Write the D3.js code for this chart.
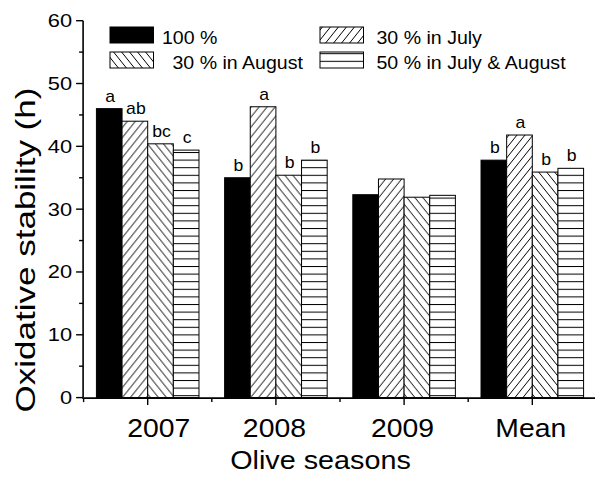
<!DOCTYPE html>
<html><head><meta charset="utf-8">
<script src="https://cdn.jsdelivr.net/npm/d3@7"></script>
<style>html,body{margin:0;padding:0;background:#fff;} svg{display:block;}</style>
</head><body>
<svg id="chart" width="595" height="477"></svg>
<script>
const categories = ["2007", "2008", "2009", "Mean"];
const seriesNames = ["100 %", "30 % in July", "30 % in August", "50 % in July & August"];
const v100 = [46.0, 35.0, 32.3, 37.8];
const vJuly = [44.0, 46.3, 34.8, 41.8];
const vAugust = [40.4, 35.4, 31.9, 35.9];
const vJulyAug = [39.4, 37.8, 32.2, 36.5];
const letters100 = ["a", "b", "", "b"];
const lettersJuly = ["ab", "a", "", "a"];
const lettersAugust = ["bc", "b", "", "b"];
const lettersJulyAug = ["c", "b", "", "b"];
const yTicks = [0, 10, 20, 30, 40, 50, 60];
const yMinorTicks = [5, 15, 25, 35, 45, 55];
const yTitle = "Oxidative stability (h)";
const xTitle = "Olive seasons";

const values = [v100, vJuly, vAugust, vJulyAug];
const letters = [letters100, lettersJuly, lettersAugust, lettersJulyAug];
const fills = ["#000", "url(#hJuly)", "url(#hAug)", "url(#hHoriz)"];
const FONT = "'Liberation Sans', Arial, Helvetica, sans-serif";

const svg = d3.select("#chart");
const defs = svg.append("defs");

// Patterns
const pJ = defs.append("pattern").attr("id", "hJuly").attr("patternUnits", "userSpaceOnUse")
  .attr("width", 8).attr("height", 10);
pJ.append("rect").attr("width", 8).attr("height", 10).attr("fill", "#fff");
pJ.append("path").attr("d", "M-8,20 L16,-10 M-8,10 L8,-10 M0,20 L16,0")
  .attr("stroke", "#000").attr("stroke-width", 1);

const pA = defs.append("pattern").attr("id", "hAug").attr("patternUnits", "userSpaceOnUse")
  .attr("width", 8).attr("height", 10);
pA.append("rect").attr("width", 8).attr("height", 10).attr("fill", "#fff");
pA.append("path").attr("d", "M-8,-10 L16,20 M-8,0 L8,20 M0,-10 L16,10")
  .attr("stroke", "#000").attr("stroke-width", 1);

const pH = defs.append("pattern").attr("id", "hHoriz").attr("patternUnits", "userSpaceOnUse")
  .attr("width", 8).attr("height", 7.6);
pH.append("rect").attr("width", 8).attr("height", 7.6).attr("fill", "#fff");
pH.append("line").attr("x1", 0).attr("x2", 8).attr("y1", 0.5).attr("y2", 0.5)
  .attr("stroke", "#000").attr("stroke-width", 1);

// Scales
const y = d3.scaleLinear().domain([0, 60]).range([397.6, 20.7]);
const x = d3.scaleBand().domain(categories).range([83.6, 596.4]).paddingInner(0.2).paddingOuter(0.1);
const x1 = d3.scaleBand().domain(d3.range(seriesNames.length)).range([0, x.bandwidth()]);

function stretchedText(sel, px, py, sx, rot) {
  sel.attr("transform", `translate(${px},${py})` + (rot ? ` rotate(${rot})` : "") + ` scale(${sx},1)`);
  return sel;
}

// Bars
const groups = svg.append("g").selectAll("g").data(categories).join("g")
  .attr("transform", d => `translate(${x(d)},0)`);
groups.each(function (cat, ci) {
  const g = d3.select(this);
  seriesNames.forEach((s, si) => {
    const val = values[si][ci];
    g.append("rect")
      .attr("x", x1(si)).attr("width", x1.bandwidth())
      .attr("y", y(val)).attr("height", y(0) - y(val))
      .attr("fill", fills[si]).attr("stroke", "#000").attr("stroke-width", 1);
    const lab = letters[si][ci];
    if (lab) {
      stretchedText(g.append("text"), x1(si) + x1.bandwidth() / 2 + 1, y(val) - 7, 1.1)
        .attr("text-anchor", "middle").attr("font-family", FONT).attr("font-size", 16)
        .attr("fill", "#000").text(lab);
    }
  });
});

// Y axis
const yAxisG = svg.append("g").attr("transform", `translate(${x.range()[0] - 0.5},0)`);
yAxisG.append("line").attr("x1", 0).attr("x2", 0).attr("y1", y(60)).attr("y2", y(0))
  .attr("stroke", "#000").attr("stroke-width", 1.6);
yTicks.forEach(t => {
  yAxisG.append("line").attr("x1", -7).attr("x2", 0).attr("y1", y(t)).attr("y2", y(t))
    .attr("stroke", "#000").attr("stroke-width", 1.4);
  stretchedText(yAxisG.append("text"), -11, y(t) + 6.5, 1.15)
    .attr("text-anchor", "end").attr("font-family", FONT).attr("font-size", 19).text(t);
});
yMinorTicks.forEach(t => {
  yAxisG.append("line").attr("x1", -4).attr("x2", 0).attr("y1", y(t)).attr("y2", y(t))
    .attr("stroke", "#000").attr("stroke-width", 1.4);
});

// X axis
const xAxisG = svg.append("g").attr("transform", `translate(0,${y(0) + 0.5})`);
xAxisG.append("line").attr("x1", x.range()[0] - 1.3).attr("x2", x.range()[1])
  .attr("y1", 0).attr("y2", 0).attr("stroke", "#000").attr("stroke-width", 1.6);
categories.forEach((c, i) => {
  const cx = x(c) + x.bandwidth() / 2;
  xAxisG.append("line").attr("x1", cx).attr("x2", cx).attr("y1", 0).attr("y2", 7)
    .attr("stroke", "#000").attr("stroke-width", 1.4);
  stretchedText(xAxisG.append("text"), cx + (i === 0 ? 11 : -1.5), 39, 1.07)
    .attr("text-anchor", "middle").attr("font-family", FONT).attr("font-size", 26.5).text(c);
});
d3.range(categories.length + 1).forEach(i => {
  const bx = x.range()[0] + i * x.step();
  xAxisG.append("line").attr("x1", bx).attr("x2", bx).attr("y1", 0).attr("y2", 4)
    .attr("stroke", "#000").attr("stroke-width", 1.4);
});

// Axis titles
stretchedText(svg.append("text"), 320.5, 469, 1.15)
  .attr("text-anchor", "middle").attr("font-family", FONT).attr("font-size", 25).text(xTitle);
stretchedText(svg.append("text"), 35, 250, 1.25, -90)
  .attr("text-anchor", "middle").attr("font-family", FONT).attr("font-size", 28).text(yTitle);

// Legend (two columns, column-major order as in the reference)
const legendOrder = [0, 2, 1, 3];
const legend = svg.append("g");
legendOrder.forEach((si, k) => {
  const col = Math.floor(k / 2), row = k % 2;
  const lx = col === 0 ? 110 : 320;
  const ly = row === 0 ? 27 : 52;
  legend.append("rect").attr("x", lx).attr("y", ly).attr("width", 43.5).attr("height", 16)
    .attr("fill", fills[si]).attr("stroke", "#000").attr("stroke-width", 1);
  const tx = lx + 52 + (si === 2 ? 10.5 : 0) + (col === 1 ? 4.5 : 0);
  stretchedText(legend.append("text"), tx, ly + 16.5, 1.03)
    .attr("font-family", FONT).attr("font-size", 19).text(seriesNames[si]);
});
</script>
</body></html>
